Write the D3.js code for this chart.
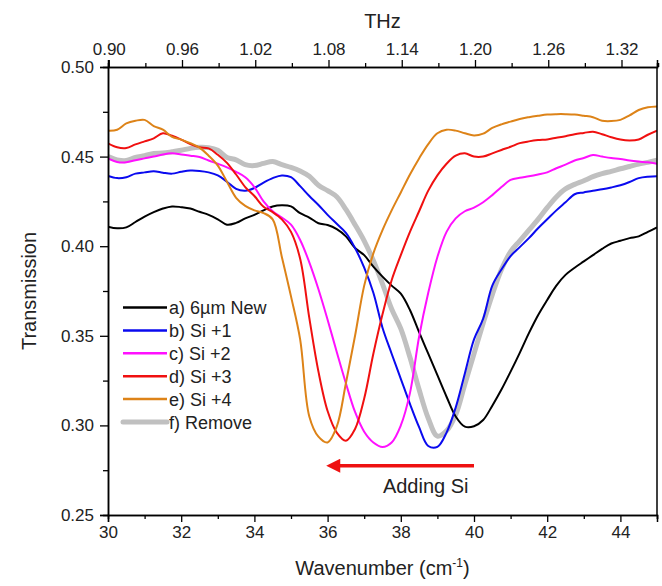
<!DOCTYPE html>
<html>
<head>
<meta charset="utf-8">
<script src="https://cdn.jsdelivr.net/npm/d3@7"></script>
<style>
body { margin: 0; background: #fff; }
text { font-family: "Liberation Sans", Arial, sans-serif; }
</style>
</head>
<body>
<script>
// wavenumber grid (cm-1), 0.25 step
var wavenumber = d3.range(0, 61).map(function(i) { return 30 + i * 0.25; });

var seriesA = [0.4109,0.4100,0.4105,0.4135,0.4165,0.4190,0.4210,0.4222,0.4218,0.4210,0.4192,0.4175,0.4150,0.4120,0.4130,0.4155,
  0.4175,0.4200,0.4222,0.4228,0.4222,0.4184,0.4160,0.4128,0.4118,0.4095,0.4055,0.3990,0.3950,0.3886,0.3830,0.3780,
  0.3735,0.3644,0.3520,0.3400,0.3280,0.3160,0.3050,0.2993,0.2995,0.3030,0.3110,0.3200,0.3300,0.3405,0.3515,0.3615,
  0.3700,0.3780,0.3840,0.3880,0.3915,0.3950,0.3985,0.4015,0.4030,0.4045,0.4055,0.4080,0.4105];
var seriesB = [0.4392,0.4380,0.4385,0.4405,0.4412,0.4418,0.4410,0.4405,0.4415,0.4422,0.4420,0.4412,0.4395,0.4360,0.4320,0.4310,
  0.4325,0.4355,0.4380,0.4395,0.4385,0.4335,0.4280,0.4230,0.4175,0.4125,0.4075,0.3990,0.3880,0.3740,0.3545,0.3400,
  0.3260,0.3120,0.2990,0.2885,0.2880,0.2960,0.3100,0.3290,0.3480,0.3595,0.3780,0.3870,0.3945,0.3995,0.4045,0.4100,
  0.4150,0.4200,0.4245,0.4290,0.4300,0.4310,0.4318,0.4328,0.4340,0.4358,0.4380,0.4388,0.4390];
var seriesC = [0.4490,0.4470,0.4468,0.4480,0.4490,0.4500,0.4512,0.4518,0.4512,0.4505,0.4498,0.4478,0.4460,0.4440,0.4415,0.4385,
  0.4330,0.4250,0.4195,0.4160,0.4120,0.4035,0.3910,0.3760,0.3590,0.3410,0.3235,0.3075,0.2965,0.2905,0.2880,0.2905,
  0.3000,0.3180,0.3495,0.3740,0.3940,0.4080,0.4155,0.4195,0.4215,0.4245,0.4285,0.4330,0.4370,0.4382,0.4390,0.4400,
  0.4412,0.4435,0.4455,0.4478,0.4492,0.4509,0.4500,0.4492,0.4487,0.4478,0.4472,0.4468,0.4460];
var seriesD = [0.4574,0.4552,0.4548,0.4568,0.4585,0.4602,0.4630,0.4616,0.4595,0.4570,0.4552,0.4546,0.4510,0.4465,0.4400,0.4330,
  0.4280,0.4220,0.4190,0.4150,0.4080,0.3930,0.3600,0.3300,0.3080,0.2960,0.2915,0.2980,0.3150,0.3400,0.3620,0.3810,
  0.3950,0.4080,0.4195,0.4310,0.4395,0.4460,0.4505,0.4518,0.4500,0.4500,0.4518,0.4537,0.4555,0.4575,0.4585,0.4592,
  0.4596,0.4605,0.4614,0.4625,0.4632,0.4639,0.4625,0.4608,0.4595,0.4590,0.4595,0.4622,0.4645];
var seriesE = [0.4645,0.4650,0.4685,0.4700,0.4705,0.4670,0.4650,0.4610,0.4595,0.4575,0.4550,0.4505,0.4450,0.4360,0.4270,0.4225,
  0.4200,0.4185,0.4150,0.3940,0.3720,0.3480,0.3050,0.2937,0.2905,0.2993,0.3235,0.3500,0.3780,0.3960,0.4090,0.4200,
  0.4300,0.4400,0.4490,0.4570,0.4630,0.4650,0.4645,0.4630,0.4618,0.4628,0.4660,0.4680,0.4695,0.4710,0.4720,0.4728,
  0.4735,0.4737,0.4737,0.4735,0.4728,0.4720,0.4700,0.4698,0.4705,0.4730,0.4760,0.4775,0.4780];
var seriesF = [0.4500,0.4482,0.4478,0.4495,0.4505,0.4518,0.4520,0.4527,0.4535,0.4546,0.4552,0.4550,0.4535,0.4495,0.4482,0.4455,
  0.4450,0.4462,0.4472,0.4455,0.4440,0.4420,0.4390,0.4340,0.4310,0.4276,0.4205,0.4120,0.4030,0.3920,0.3790,0.3650,
  0.3540,0.3380,0.3200,0.3040,0.2940,0.2970,0.3060,0.3230,0.3400,0.3570,0.3730,0.3870,0.3970,0.4030,0.4090,0.4150,
  0.4215,0.4275,0.4320,0.4345,0.4365,0.4388,0.4405,0.4418,0.4432,0.4445,0.4458,0.4468,0.4480];

var legendLabels = ["a) 6\u00b5m New", "b) Si +1", "c) Si +2", "d) Si +3", "e) Si +4", "f) Remove"];
var colors = ["#000000", "#0a0aef", "#ff10ff", "#f01010", "#dd8318", "#c0c0c0"];

var xTicks = [30, 32, 34, 36, 38, 40, 42, 44];
var yTicks = [0.25, 0.30, 0.35, 0.40, 0.45, 0.50];
var thzTicks = [0.90, 0.96, 1.02, 1.08, 1.14, 1.20, 1.26, 1.32];

// arrow "Adding Si"
var arrowFrom = 40.0, arrowTo = 36.05, arrowLevel = 0.2775;

var W = 662, H = 586;
var margin = {top: 67, right: 5, bottom: 71, left: 108};

var svg = d3.select("body").append("svg")
  .attr("width", W)
  .attr("height", H);

var x = d3.scaleLinear().domain([30, 45]).range([margin.left, W - margin.right]);
var y = d3.scaleLinear().domain([0.25, 0.5]).range([H - margin.bottom, margin.top]);
var cmPerThz = 33.356;
var xt = d3.scaleLinear().domain([30 / cmPerThz, 45 / cmPerThz]).range(x.range());

var allSeries = [seriesA, seriesB, seriesC, seriesD, seriesE, seriesF];

var line = d3.line()
  .x(function(d) { return x(d[0]); })
  .y(function(d) { return y(d[1]); })
  .curve(d3.curveCatmullRom.alpha(0.5));

svg.append("clipPath").attr("id", "clip")
  .append("rect")
  .attr("x", margin.left).attr("y", margin.top)
  .attr("width", W - margin.left - margin.right)
  .attr("height", H - margin.top - margin.bottom);

// gray first (it sits behind), then a..e
var order = [5, 0, 1, 2, 3, 4];
var g = svg.append("g").attr("clip-path", "url(#clip)");
order.forEach(function(k) {
  g.append("path")
    .datum(wavenumber.map(function(w, i) { return [w, allSeries[k][i]]; }))
    .attr("fill", "none")
    .attr("stroke", colors[k])
    .attr("stroke-width", k == 5 ? 5 : 2)
    .attr("stroke-linejoin", "round")
    .attr("d", line);
});

// axes
function minor(lo, hi, step) {
  var out = [];
  for (var v = lo; v <= hi + 1e-9; v += step) out.push(+v.toFixed(4));
  return out;
}

svg.append("g").attr("transform", "translate(0," + y(0.25) + ")")
  .call(d3.axisBottom(x).tickValues(minor(31, 45, 2)).tickSize(4).tickFormat(""));
svg.append("g").attr("transform", "translate(0," + y(0.25) + ")")
  .call(d3.axisBottom(x).tickValues(xTicks).tickSize(7).tickPadding(4).tickFormat(d3.format("d")));

svg.append("g").attr("transform", "translate(" + x(30) + ",0)")
  .call(d3.axisLeft(y).tickValues(minor(0.275, 0.475, 0.05)).tickSize(5).tickFormat(""));
svg.append("g").attr("transform", "translate(" + x(30) + ",0)")
  .call(d3.axisLeft(y).tickValues(yTicks).tickSize(8).tickPadding(6).tickFormat(d3.format(".2f")));

svg.append("g").attr("transform", "translate(0," + y(0.5) + ")")
  .call(d3.axisTop(xt).tickValues(minor(0.93, 1.35, 0.06)).tickSize(4).tickFormat(""));
svg.append("g").attr("transform", "translate(0," + y(0.5) + ")")
  .call(d3.axisTop(xt).tickValues(thzTicks).tickSize(7).tickPadding(5).tickFormat(d3.format(".2f")));

// right frame line
svg.append("line")
  .attr("x1", x(45)).attr("x2", x(45))
  .attr("y1", y(0.5)).attr("y2", y(0.25))
  .attr("stroke", "#000").attr("stroke-width", 1.5);

svg.selectAll(".domain").attr("stroke", "#000").attr("stroke-width", 1.5);
svg.selectAll(".tick line").attr("stroke", "#000").attr("stroke-width", 1.3);
svg.selectAll(".tick text")
  .attr("fill", "#222")
  .style("font-size", "17px")
  .style("font-family", "Liberation Sans, Arial, sans-serif");

// axis titles
var xTitle = svg.append("text")
  .attr("x", (x(30) + x(45)) / 2)
  .attr("y", 575)
  .attr("text-anchor", "middle")
  .style("font-size", "20px")
  .attr("fill", "#222");
xTitle.append("tspan").text("Wavenumber (cm");
xTitle.append("tspan").attr("dy", -8).style("font-size", "12px").text("-1");
xTitle.append("tspan").attr("dy", 8).text(")");

svg.append("text")
  .attr("x", (x(30) + x(45)) / 2)
  .attr("y", 28)
  .attr("text-anchor", "middle")
  .style("font-size", "20px")
  .attr("fill", "#222")
  .text("THz");

svg.append("text")
  .attr("transform", "translate(36," + (y(0.25) + y(0.5)) / 2 + ") rotate(-90)")
  .attr("text-anchor", "middle")
  .style("font-size", "20px")
  .attr("fill", "#222")
  .text("Transmission");

// legend
var legend = svg.append("g");
legendLabels.forEach(function(lab, i) {
  var ly = 307.5 + i * 22.9;
  legend.append("line")
    .attr("x1", 123).attr("x2", 167)
    .attr("y1", ly).attr("y2", ly)
    .attr("stroke", colors[i])
    .attr("stroke-width", i == 5 ? 5 : 2.5)
    .attr("stroke-linecap", i == 5 ? "round" : "butt");
  legend.append("text")
    .attr("x", 169)
    .attr("y", ly + 6.5)
    .style("font-size", "18px")
    .attr("fill", "#222")
    .text(lab);
});

// arrow
var defs = svg.append("defs");
defs.append("marker")
  .attr("id", "head")
  .attr("viewBox", "0 0 10 10")
  .attr("refX", 2).attr("refY", 5)
  .attr("markerWidth", 5).attr("markerHeight", 4)
  .attr("orient", "auto")
  .append("path")
  .attr("d", "M0,0 L10,5 L0,10 z")
  .attr("fill", "#ee1111");

svg.append("line")
  .attr("x1", x(arrowFrom)).attr("x2", x(arrowTo) + 8)
  .attr("y1", y(arrowLevel)).attr("y2", y(arrowLevel))
  .attr("stroke", "#ee1111")
  .attr("stroke-width", 3.5)
  .attr("marker-end", "url(#head)");

svg.append("text")
  .attr("x", x(38.68))
  .attr("y", y(arrowLevel) + 27)
  .attr("text-anchor", "middle")
  .style("font-size", "20px")
  .attr("fill", "#222")
  .text("Adding Si");
</script>
</body>
</html>
